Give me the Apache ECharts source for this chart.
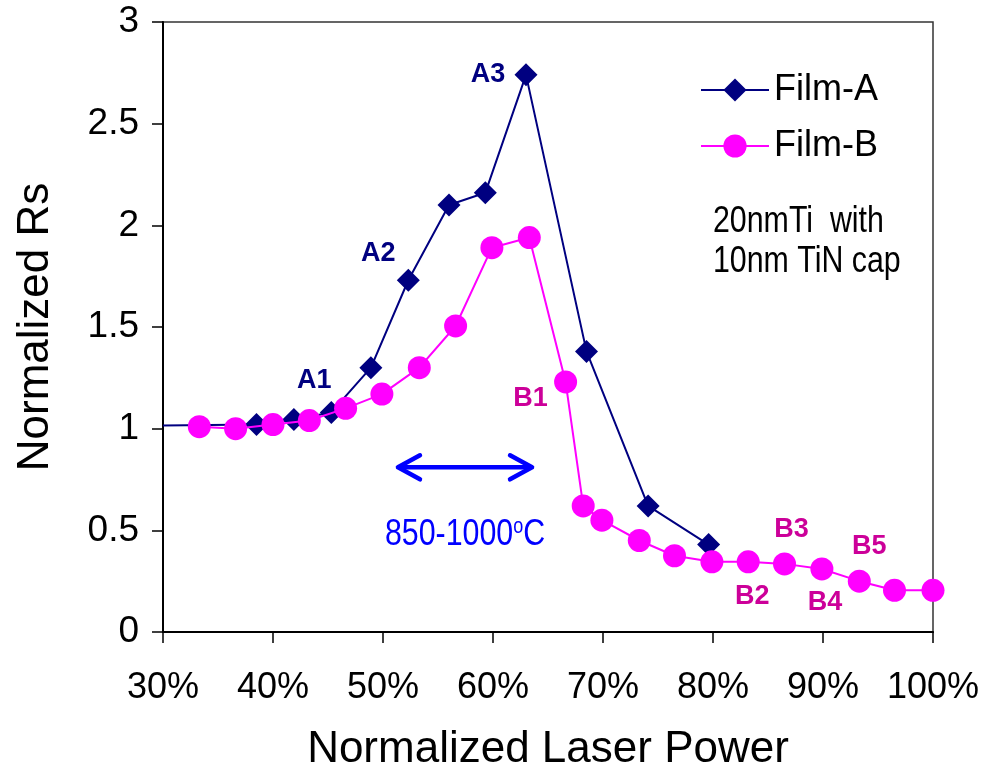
<!DOCTYPE html>
<html>
<head>
<meta charset="utf-8">
<script src="https://cdn.jsdelivr.net/npm/echarts@6/dist/echarts.min.js"></script>
<style>
  html, body { margin: 0; padding: 0; background: #ffffff; }
  #chart { width: 987px; height: 766px; }
</style>
</head>
<body>
<div id="chart"></div>
<script>
// Normalized laser power (%) and normalized sheet resistance for both films
const powerA = [30, 38.5, 41.9, 45.3, 48.9, 52.3, 56.0, 59.3, 63.0, 68.5, 74.1, 79.6];
const rsA    = [1.015, 1.02, 1.045, 1.08, 1.30, 1.73, 2.10, 2.16, 2.74, 1.38, 0.62, 0.43];
const tagsA  = ['', '', '', 'A1', '', 'A2', '', '', 'A3', '', '', ''];

const powerB = [33.3, 36.6, 40.0, 43.3, 46.6, 49.9, 53.3, 56.6, 59.9, 63.3, 66.6, 68.2, 69.9, 73.3, 76.5, 79.9, 83.2, 86.5, 89.9, 93.3, 96.5, 100];
const rsB    = [1.01, 1.00, 1.02, 1.04, 1.10, 1.17, 1.30, 1.505, 1.89, 1.94, 1.23, 0.62, 0.55, 0.45, 0.375, 0.345, 0.345, 0.335, 0.31, 0.25, 0.205, 0.205];
const tagsB  = ['', '', '', '', '', '', '', '', '', '', 'B1', '', '', '', '', '', 'B2', 'B3', 'B4', 'B5', '', ''];

const seriesNames = ['Film-A', 'Film-B'];
const xTicks = { min: 30, max: 100, step: 10 };
const yTicks = { min: 0, max: 3, step: 0.5 };

// temperature window arrow (power range) and its caption
const windowRange = [51.36, 63.55];
const windowLevel = 0.81;
const windowText = { lo: '850', hi: '1000', unit: 'C' };
const stackNote = ['20nmTi  with', '10nm TiN cap'];

const FONT = '"Liberation Sans", Arial, sans-serif';
const NAVY = '#000080';
const PINK = '#ff00ff';
const NARROW_SCALE = 0.82;

// where each point tag sits relative to its marker
const tagOffsets = {
  A1: [-17, -32], A2: [-30, -27], A3: [-38, 0],
  B1: [-35, 17], B2: [4, 35], B3: [7, -34], B4: [3, 34], B5: [10, -35]
};

function buildData(xs, ys, tags, color) {
  return xs.map((x, i) => {
    const item = { value: [x, ys[i]] };
    if (i === 0 && color === NAVY) item.symbol = 'none';
    const t = tags[i];
    if (t) {
      item.label = {
        show: true, formatter: t, position: 'inside', offset: tagOffsets[t],
        color: color === NAVY ? NAVY : '#cc0099',
        fontFamily: FONT, fontWeight: 'bold', fontSize: 27
      };
    }
    return item;
  });
}

const chart = echarts.init(document.getElementById('chart'), null, { renderer: 'canvas' });

const option = {
  backgroundColor: '#ffffff',
  animation: false,
  grid: {
    left: 163, right: 54, top: 22, bottom: 134,
    show: true, borderColor: '#333333', borderWidth: 1.5,
    containLabel: false, outerBoundsMode: 'none'
  },
  legend: {
    data: seriesNames,
    orient: 'vertical',
    left: 695, top: 67,
    itemWidth: 68, itemHeight: 29, itemGap: 20,
    textStyle: { fontFamily: FONT, fontSize: 36, color: '#000', padding: [0, 0, 0, 0] }
  },
  xAxis: {
    type: 'value', min: xTicks.min, max: xTicks.max, interval: xTicks.step,
    name: 'Normalized Laser Power', nameLocation: 'middle', nameGap: 96,
    nameTextStyle: { fontFamily: FONT, fontSize: 44, color: '#000' },
    axisLine: { lineStyle: { color: '#000', width: 2 } },
    axisTick: { show: true, inside: false, length: 11, lineStyle: { color: '#000', width: 1.5 } },
    axisLabel: { formatter: '{value}%', fontFamily: FONT, fontSize: 36, color: '#000', margin: 38 },
    splitLine: { show: false }
  },
  yAxis: {
    type: 'value', min: yTicks.min, max: yTicks.max, interval: yTicks.step,
    name: 'Normalized Rs', nameLocation: 'middle', nameGap: 105,
    nameTextStyle: { fontFamily: FONT, fontSize: 44, color: '#000' },
    axisLine: { show: true, lineStyle: { color: '#000', width: 2 } },
    axisTick: { show: true, inside: false, length: 11, lineStyle: { color: '#000', width: 1.5 } },
    axisLabel: { fontFamily: FONT, fontSize: 37, color: '#000', margin: 24 },
    splitLine: { show: false }
  },
  series: [
    {
      name: seriesNames[0], type: 'line', symbol: 'diamond', symbolSize: 23,
      lineStyle: { color: NAVY, width: 2 }, itemStyle: { color: NAVY },
      data: buildData(powerA, rsA, tagsA, NAVY), z: 2
    },
    {
      name: seriesNames[1], type: 'line', symbol: 'circle', symbolSize: 23,
      lineStyle: { color: PINK, width: 2 }, itemStyle: { color: PINK },
      data: buildData(powerB, rsB, tagsB, PINK), z: 3
    }
  ]
};
chart.setOption(option);

// annotations placed through the axes' own scales
function drawNotes() {
  const p1 = chart.convertToPixel({ gridIndex: 0 }, [windowRange[0], windowLevel]);
  const p2 = chart.convertToPixel({ gridIndex: 0 }, [windowRange[1], windowLevel]);
  const cap = chart.convertToPixel({ gridIndex: 0 }, [(windowRange[0] + windowRange[1]) / 2, 0.48]);
  const head = 22, half = 12;
  const arrowStyle = { stroke: '#0000ff', lineWidth: 4.5, lineCap: 'round', lineJoin: 'round', fill: null };
  chart.setOption({
    graphic: [
      { type: 'line', shape: { x1: p1[0] + 2, y1: p1[1], x2: p2[0] - 2, y2: p2[1] }, style: arrowStyle, z: 10 },
      { type: 'polyline', shape: { points: [[p1[0] + head, p1[1] - half], [p1[0], p1[1]], [p1[0] + head, p1[1] + half]] }, style: arrowStyle, z: 10 },
      { type: 'polyline', shape: { points: [[p2[0] - head, p2[1] - half], [p2[0], p2[1]], [p2[0] - head, p2[1] + half]] }, style: arrowStyle, z: 10 },
      {
        type: 'text', x: cap[0], y: cap[1], scaleX: NARROW_SCALE, z: 10,
        style: {
          text: '{n|' + windowText.lo + '-' + windowText.hi + '}{s|o}{n|' + windowText.unit + '}',
          align: 'center', verticalAlign: 'middle',
          rich: {
            n: { fontFamily: FONT, fontSize: 37, fill: '#0000ff', color: '#0000ff' },
            s: { fontFamily: FONT, fontSize: 22, fill: '#0000ff', color: '#0000ff', verticalAlign: 'top', padding: [0, 0, 14, 0] }
          }
        }
      },
      {
        type: 'text', x: 713, y: 202, scaleX: NARROW_SCALE, z: 10,
        style: {
          text: stackNote.join('\n'), align: 'left', verticalAlign: 'top',
          fontFamily: FONT, fontSize: 37, lineHeight: 40, fill: '#000'
        }
      }
    ]
  });
}
drawNotes();
</script>
</body>
</html>
